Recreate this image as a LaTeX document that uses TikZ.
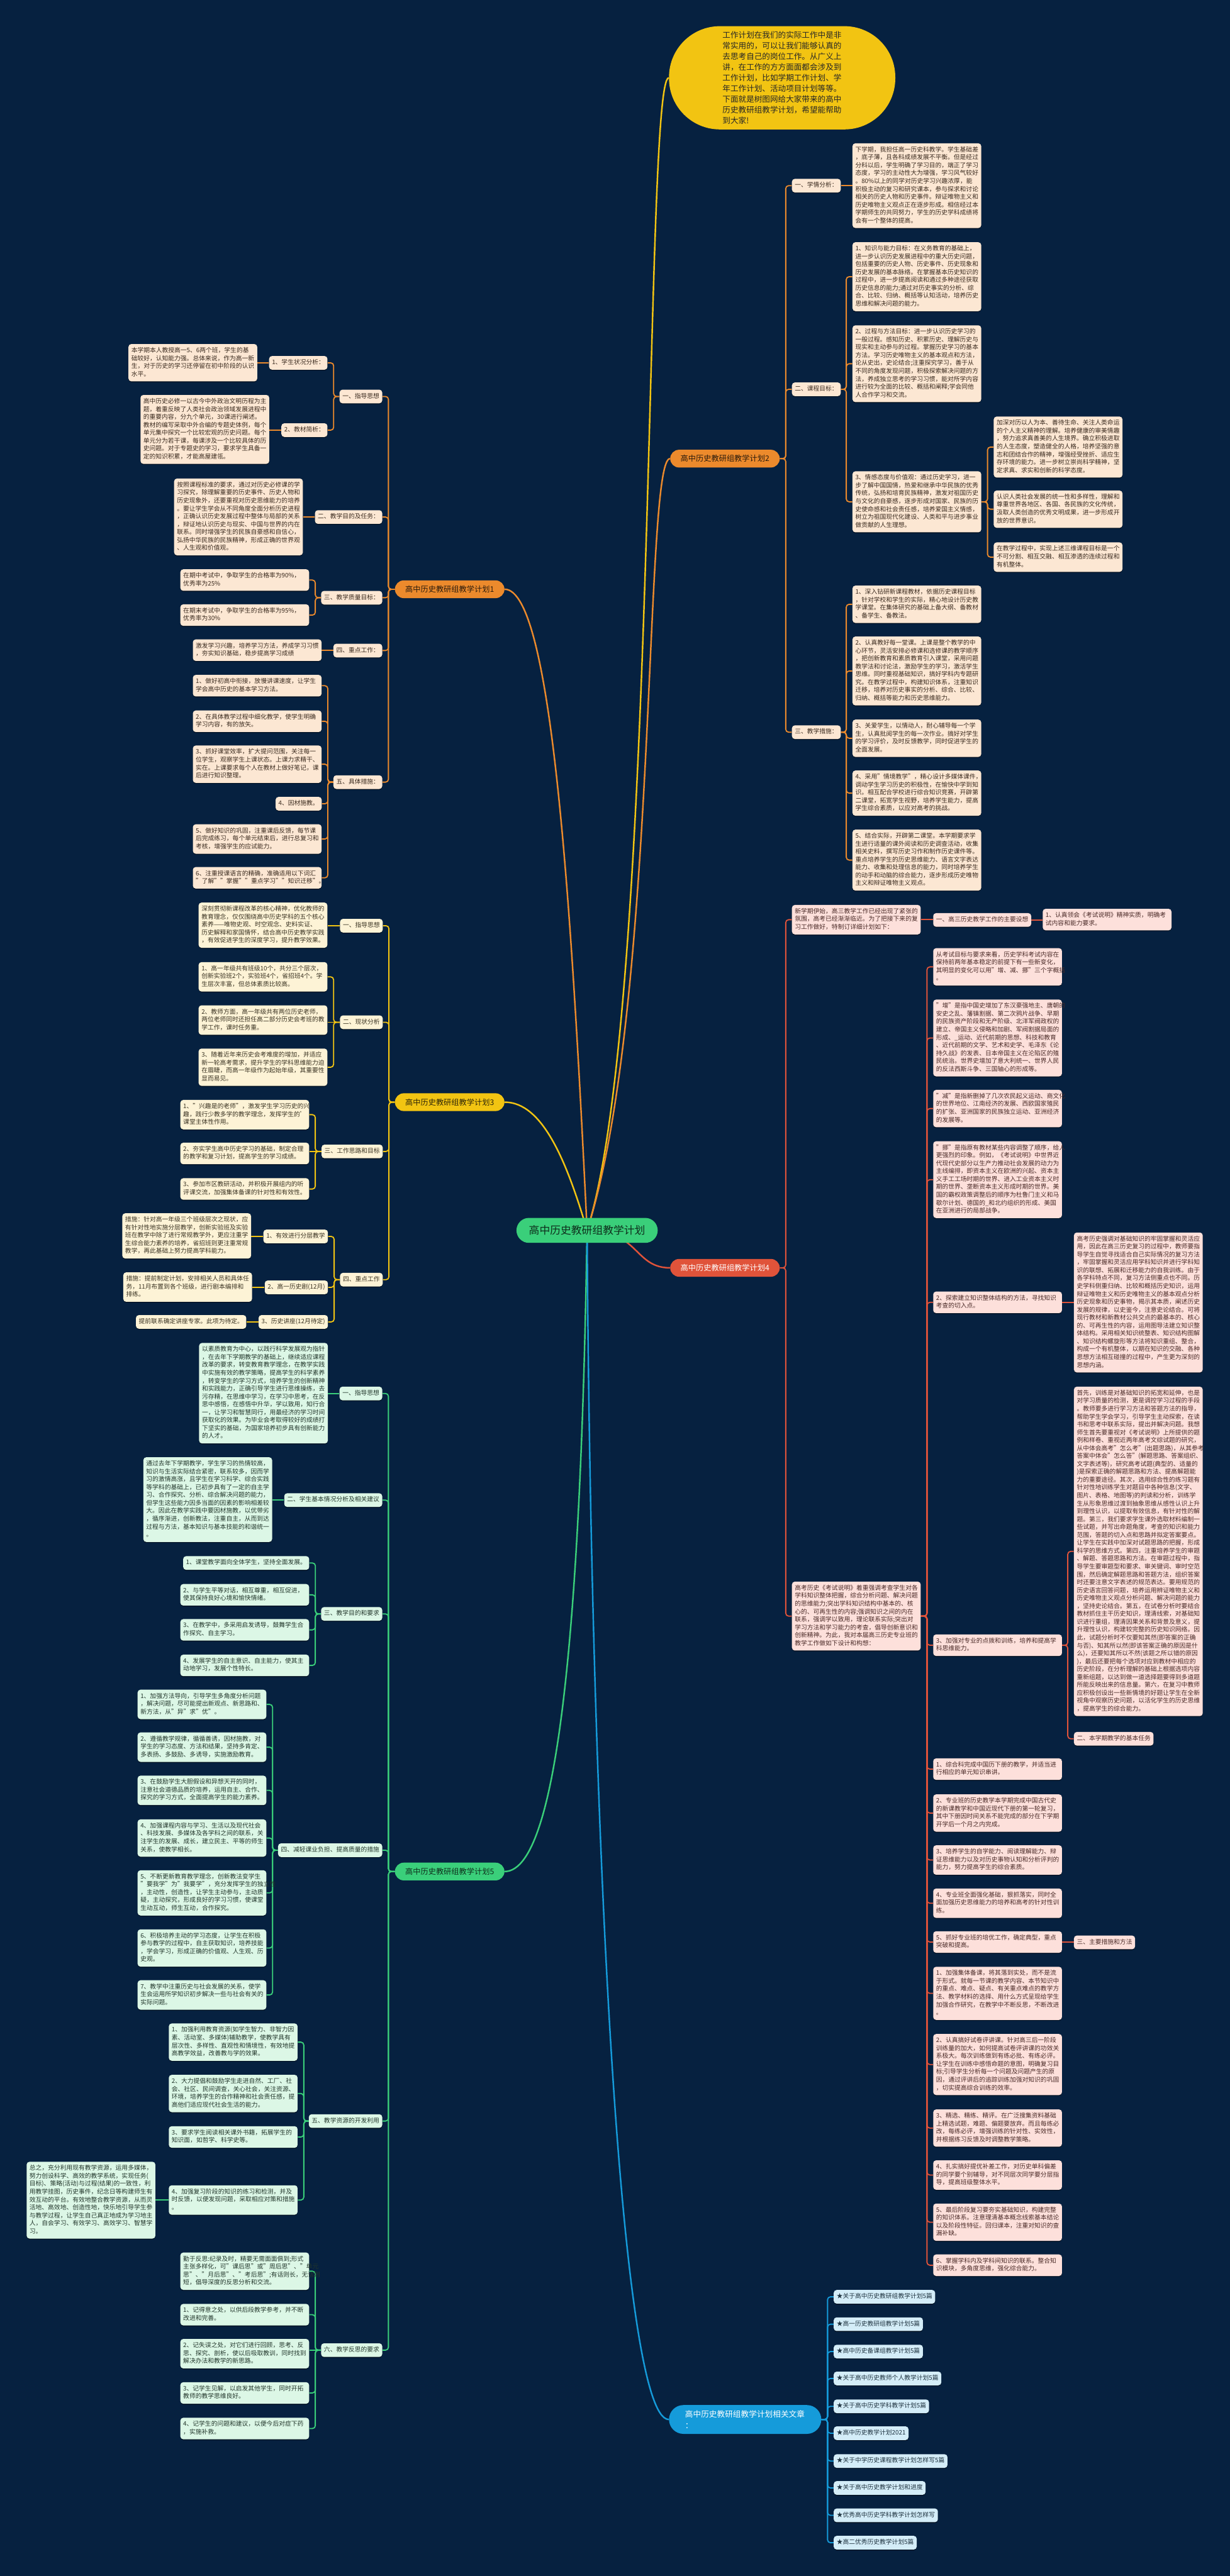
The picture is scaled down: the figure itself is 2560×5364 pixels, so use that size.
\documentclass[tikz,border=0pt]{standalone}
\usepackage{fontspec}
\setmainfont{Noto Sans CJK SC}
\usetikzlibrary{calc,shadows}
\pgfdeclarelayer{back}
\pgfdeclarelayer{bg}
\pgfsetlayers{back,bg,main}
\definecolor{bgc}{HTML}{062140}
\definecolor{f1}{HTML}{FCE7D3}
\definecolor{t1}{HTML}{3A2A1E}
\definecolor{f3}{HTML}{FDF3D6}
\definecolor{t3}{HTML}{3A3322}
\definecolor{f4}{HTML}{FDE0DB}
\definecolor{t4}{HTML}{4A2A27}
\definecolor{f5}{HTML}{DCF7E6}
\definecolor{t5}{HTML}{22362B}
\definecolor{f6}{HTML}{D4EDF8}
\definecolor{t6}{HTML}{1F3340}
\definecolor{colO}{HTML}{EC8A2C}
\definecolor{colY}{HTML}{F2C412}
\definecolor{colR}{HTML}{E0533A}
\definecolor{colG}{HTML}{3ACF7A}
\definecolor{colB}{HTML}{159BDA}
\definecolor{tO}{HTML}{2B1B0C}
\definecolor{tY}{HTML}{2E2608}
\definecolor{tG}{HTML}{0E2E1C}
\newcommand\mystrut{\rule[-2.4pt]{0pt}{8.22pt}}
\newcommand\cL[3]{\draw[con=#1] (#2.west) -| ($(#3.east)+(12.5,0)$) -- (#3.east);}
\newcommand\cR[3]{\draw[con=#1] (#2.east) -| ($(#3.west)+(-12.5,0)$) -- (#3.west);}
\newcommand\sL[3]{\draw[con=#1] (#2.west) -- (#2.west -| #3.east);}
\newcommand\sR[3]{\draw[con=#1] (#2.east) -- (#2.east -| #3.west);}
\tikzset{
  nb/.style={font=\fontsize{6.4pt}{8.22pt}\selectfont, inner xsep=3pt, inner ysep=3pt, rounded corners=3pt, align=left, execute at begin node=\mystrut, execute at end node=\mystrut, drop shadow={shadow xshift=0pt, shadow yshift=-0.9pt, opacity=0.45, fill=black}},
  tw/.style={text width=128pt},
  k1/.style={nb, fill=f1, text=t1},
  k3/.style={nb, fill=f3, text=t3},
  k4/.style={nb, fill=f4, text=t4},
  k5/.style={nb, fill=f5, text=t5},
  k6/.style={nb, fill=f6, text=t6},
  con/.style={draw=#1, line width=1.2pt, rounded corners=3pt},
  trunkline/.style={draw=#1, line width=1.6pt},
  lv1/.style={font=\fontsize{8pt}{10pt}\selectfont, minimum width=114pt, minimum height=18.5pt, rounded corners=9.25pt, inner sep=0pt},
}
\begin{document}
\begin{tikzpicture}[x=0.5pt,y=-0.5pt]
\useasboundingbox (0,0) rectangle (2560,5364);
\begin{pgfonlayer}{back}
\fill[bgc] (0,0) rectangle (2560,5364);
\end{pgfonlayer}

% ---------- intro + center ----------
\node[fill=colY, text=black!85, minimum width=235.5pt, minimum height=107.5pt, rounded corners=53pt, font=\fontsize{8.25pt}{11.1pt}\selectfont, align=left, text width=124pt, inner sep=0pt] (intro) at (1628,162) {工作计划在我们的实际工作中是非\\常实用的，可以让我们能够认真的\\去思考自己的岗位工作。从广义上\\讲，在工作的方方面面都会涉及到\\工作计划，比如学期工作计划、学\\年工作计划、活动项目计划等等。\\下面就是树图网给大家带来的高中\\历史教研组教学计划，希望能帮助\\到大家!};
\node[fill=colG, text=tG, font=\fontsize{11pt}{13pt}\selectfont, minimum width=147pt, minimum height=26pt, rounded corners=13pt, inner sep=0pt] (C) at (1222,2562) {高中历史教研组教学计划};

% ---------- level 1 ----------
\node[lv1, fill=colO, text=tO] (P1) at (936,1227) {高中历史教研组教学计划1};
\node[lv1, fill=colO, text=tO] (P2) at (1509,955) {高中历史教研组教学计划2};
\node[lv1, fill=colY, text=tY] (P3) at (936,2295) {高中历史教研组教学计划3};
\node[lv1, fill=colR, text=white] (P4) at (1509,2640) {高中历史教研组教学计划4};
\node[lv1, fill=colG, text=tG] (P5) at (936,3897) {高中历史教研组教学计划5};
\node[fill=colB, text=white, font=\fontsize{8.3pt}{11.5pt}\selectfont, align=left, text width=125pt, minimum height=30pt, rounded corners=15pt, inner xsep=16.75pt, inner ysep=2pt] (P6) at (1551,5038) {高中历史教研组教学计划相关文章\\：};

% ---------- plan 1 ----------
\node[k1, anchor=north east] (p1a) at (796,811) {一、指导思想};
\node[k1, anchor=north east] (p1a1) at (682,741) {1、学生状况分析：};
\node[k1, tw, anchor=north west] (p1a1x) at (267,716) {本学期本人教授高一5、6两个班，学生的基\\础较好，认知能力强。总体来说，作为高一新\\生，对于历史的学习还停留在初中阶段的认识\\水平。};
\node[k1, anchor=north east] (p1a2) at (682,881) {2、教材简析：};
\node[k1, tw, anchor=north west] (p1a2x) at (292,822) {高中历史必修一以古今中外政治文明历程为主\\题，着重反映了人类社会政治领域发展进程中\\的重要内容，分九个单元，30课进行阐述。\\教材的编写采取中外合编的专题史体例，每个\\单元集中探究一个比较宏观的历史问题。每个\\单元分为若干课，每课涉及一个比较具体的历\\史问题。对于专题史的学习，要求学生具备一\\定的知识积累，才能高屋建瓴。};
\node[k1, anchor=north east] (p1b) at (796,1062) {二、教学目的及任务：};
\node[k1, tw, anchor=north west] (p1bx) at (362,996) {按照课程标准的要求，通过对历史必修课的学\\习探究，除理解重要的历史事件、历史人物和\\历史现象外，还要重视对历史思维能力的培养\\。要让学生学会从不同角度全面分析历史进程\\，正确认识历史发展过程中整体与局部的关系\\，辩证地认识历史与现实、中国与世界的内在\\联系。同时增强学生的民族自豪感和自信心，\\弘扬中华民族的民族精神，形成正确的世界观\\、人生观和价值观。};
\node[k1, anchor=north east] (p1c) at (796,1230) {三、教学质量目标：};
\node[k1, tw, anchor=north west] (p1c1) at (375,1185) {在期中考试中，争取学生的合格率为90\%，\\优秀率为25\%};
\node[k1, tw, anchor=north west] (p1c2) at (375,1258) {在期末考试中，争取学生的合格率为95\%，\\优秀率为30\%};
\node[k1, anchor=north east] (p1d) at (796,1340) {四、重点工作：};
\node[k1, tw, anchor=north west] (p1dx) at (401,1331) {激发学习兴趣，培养学习方法，养成学习习惯\\，夯实知识基础，稳步提高学习成绩};
\node[k1, anchor=north east] (p1e) at (796,1614) {五、具体措施：};
\node[k1, tw, anchor=north west] (p1e1) at (401,1405) {1、做好初高中衔接，放慢讲课速度，让学生\\学会高中历史的基本学习方法。};
\node[k1, tw, anchor=north west] (p1e2) at (401,1479) {2、在具体教学过程中细化教学，使学生明确\\学习内容，有的放矢。};
\node[k1, tw, anchor=north west] (p1e3) at (401,1552) {3、抓好课堂效率，扩大提问范围，关注每一\\位学生，观察学生上课状态。上课力求精干、\\实在。上课要求每个人在教材上做好笔记，课\\后进行知识整理。};
\node[k1, anchor=north east] (p1e4) at (670,1659) {4、因材施教。};
\node[k1, tw, anchor=north west] (p1e5) at (401,1716) {5、做好知识的巩固，注重课后反馈，每节课\\后完成练习，每个单元结束后，进行总复习和\\考核，增强学生的应试能力。};
\node[k1, tw, anchor=north west] (p1e6) at (401,1805) {6、注重授课语言的精确，准确适用以下词汇\\"了解""掌握""重点学习""知识迁移"。};

% ---------- plan 2 ----------
\node[k1, anchor=north west] (p2a) at (1648,372) {一、学情分析：};
\node[k1, tw, anchor=north west] (p2ax) at (1774,298) {下学期，我担任高一历史科教学。学生基础差\\，底子薄，且各科成绩发展不平衡。但是经过\\分科以后，学生明确了学习目的，端正了学习\\态度，学习的主动性大为增强，学习风气较好\\。80\%以上的同学对历史学习兴趣浓厚，能\\积极主动的复习和研究课本，参与探求和讨论\\相关的历史人物和历史事件。辩证唯物主义和\\历史唯物主义观点正在逐步形成。相信经过本\\学期师生的共同努力，学生的历史学科成绩将\\会有一个整体的提高。};
\node[k1, anchor=north west] (p2b) at (1648,796) {二、课程目标：};
\node[k1, tw, anchor=north west] (p2b1) at (1774,504) {1、知识与能力目标：在义务教育的基础上，\\进一步认识历史发展进程中的重大历史问题，\\包括重要的历史人物、历史事件、历史现象和\\历史发展的基本脉络。在掌握基本历史知识的\\过程中，进一步提高阅读和通过多种途径获取\\历史信息的能力;通过对历史事实的分析、综\\合、比较、归纳、概括等认知活动，培养历史\\思维和解决问题的能力。};
\node[k1, tw, anchor=north west] (p2b2) at (1774,677) {2、过程与方法目标：进一步认识历史学习的\\一般过程。感知历史、积累历史、理解历史与\\现实和主动参与的过程。掌握历史学习的基本\\方法。学习历史唯物主义的基本观点和方法，\\论从史出，史论结合;注重探究学习，善于从\\不同的角度发现问题，积极探索解决问题的方\\法，养成独立思考的学习习惯，能对所学内容\\进行较为全面的比较、概括和阐释;学会同他\\人合作学习和交流。};
\node[k1, tw, anchor=north west] (p2b3) at (1774,981) {3、情感态度与价值观：通过历史学习，进一\\步了解中国国情，热爱和继承中华民族的优秀\\传统，弘扬和培育民族精神，激发对祖国历史\\与文化的自豪感，逐步形成对国家、民族的历\\史使命感和社会责任感，培养爱国主义情感，\\树立为祖国现代化建设、人类和平与进步事业\\做贡献的人生理想。};
\node[k1, tw, anchor=north west] (p2b3a) at (2068,867) {加深对历以人为本、善待生命、关注人类命运\\的个人主义精神的理解。培养健康的审美情趣\\，努力追求真善美的人生境界。确立积极进取\\的人生态度，塑造健全的人格，培养坚强的意\\志和团结合作的精神，增强经受挫折、适应生\\存环境的能力。进一步树立崇尚科学精神，坚\\定求真、求实和创新的科学态度。};
\node[k1, tw, anchor=north west] (p2b3b) at (2068,1021) {认识人类社会发展的统一性和多样性，理解和\\尊重世界各地区、各国、各民族的文化传统，\\汲取人类创造的优秀文明成果，进一步形成开\\放的世界意识。};
\node[k1, tw, anchor=north west] (p2b3c) at (2068,1129) {在教学过程中，实现上述三维课程目标是一个\\不可分割、相互交融、相互渗透的连续过程和\\有机整体。};
\node[k1, anchor=north west] (p2c) at (1648,1510) {三、教学措施：};
\node[k1, tw, anchor=north west] (p2c1) at (1774,1219) {1、深入钻研新课程教材，依据历史课程目标\\，针对学校和学生的实际，精心地设计历史教\\学课堂。在集体研究的基础上备大纲、备教材\\、备学生、备教法。};
\node[k1, tw, anchor=north west] (p2c2) at (1774,1325) {2、认真教好每一堂课。上课是整个教学的中\\心环节，灵活安排必修课和选修课的教学顺序\\，把创新教育和素质教育引入课堂，采用问题\\教学法和讨论法，激励学生的学习，激活学生\\思维。同时重视基础知识，搞好学科内专题研\\究。在教学过程中，构建知识体系，注重知识\\迁移，培养对历史事实的分析、综合、比较、\\归纳、概括等能力和历史思维能力。};
\node[k1, tw, anchor=north west] (p2c3) at (1774,1498) {3、关爱学生，以情动人，耐心辅导每一个学\\生，认真批阅学生的每一次作业。搞好对学生\\的学习评价，及时反馈教学，同时促进学生的\\全面发展。};
\node[k1, tw, anchor=north west] (p2c4) at (1774,1604) {4、采用"情境教学"，精心设计多媒体课件，\\调动学生学习历史的积极性，在愉快中学到知\\识。相互配合学校进行综合知识竞赛，开辟第\\二课堂，拓宽学生视野，培养学生能力，提高\\学生综合素质，以应对高考的挑战。};
\node[k1, tw, anchor=north west] (p2c5) at (1774,1727) {5、结合实际，开辟第二课堂。本学期要求学\\生进行适量的课外阅读和历史调查活动，收集\\相关史料，撰写历史习作和制作历史课件等。\\重点培养学生的历史思维能力、语言文字表达\\能力、收集和处理信息的能力，同时培养学生\\的动手和动脑的综合能力，逐步形成历史唯物\\主义和辩证唯物主义观点。};

% ---------- plan 3 ----------
\node[k3, anchor=north east] (p3a) at (797,1913) {一、指导思想};
\node[k3, tw, anchor=north west] (p3ax) at (413,1879) {深刻贯彻新课程改革的核心精神，优化教师的\\教育理念，仅仅围绕高中历史学科的五个核心\\素养——唯物史观、时空观念、史料实证、\\历史解释和家国情怀，结合高中历史教学实践\\，有效促进学生的深度学习，提升教学效果。};
\node[k3, anchor=north east] (p3b) at (797,2114) {二、现状分析};
\node[k3, tw, anchor=north west] (p3b1) at (413,2003) {1、高一年级共有班级10个，共分三个层次，\\创新实验班2个，实验班4个，省招班4个。学\\生层次丰富，但总体素质比较高。};
\node[k3, tw, anchor=north west] (p3b2) at (413,2093) {2、教师方面，高一年级共有两位历史老师，\\两位老师同时还担任高二部分历史会考班的教\\学工作，课时任务重。};
\node[k3, tw, anchor=north west] (p3b3) at (413,2183) {3、随着近年来历史会考难度的增加，并适应\\新一轮高考需求，提升学生的学科思维能力迫\\在眉睫，而高一年级作为起始年级，其重要性\\显而易见。};
\node[k3, anchor=north east] (p3c) at (797,2383) {三、工作思路和目标};
\node[k3, tw, anchor=north west] (p3c1) at (375,2290) {1、"兴趣是的老师"，激发学生学习历史的兴\\趣，践行少教多学的教学理念，发挥学生的'\\课堂主体性作用。};
\node[k3, tw, anchor=north west] (p3c2) at (375,2379) {2、夯实学生高中历史学习的基础，制定合理\\的教学和复习计划，提高学生的学习成绩。};
\node[k3, tw, anchor=north west] (p3c3) at (375,2453) {3、参加市区教研活动，并积极开展组内的听\\评课交流，加强集体备课的针对性和有效性。};
\node[k3, anchor=north east] (p3d) at (797,2650) {四、重点工作};
\node[k3, anchor=north east] (p3d1) at (683,2560) {1、有效进行分层教学};
\node[k3, tw, anchor=north east] (p3d1x) at (523,2526) {措施：针对高一年级三个班级层次之现状，应\\有针对性地实施分层教学，创新实验班及实验\\班在教学中除了进行常规教学外，更应注重学\\生综合能力素养的培养，省招班则更注重常规\\教学，再此基础上努力提高学科能力。};
\node[k3, anchor=north east] (p3d2) at (683,2666) {2、高一历史剧(12月)};
\node[k3, tw, anchor=north east] (p3d2x) at (525,2649) {措施：提前制定计划，安排相关人员和具体任\\务，11月布置到各个班级，进行剧本编排和\\排练。};
\node[k3, anchor=north east] (p3d3) at (683,2738) {3、历史讲座(12月待定)};
\node[k3, anchor=north east] (p3d3x) at (513,2738) {提前联系确定讲座专家。此项为待定。};

% ---------- plan 4 ----------
\node[k4, tw, anchor=north west] (p4a) at (1648,1884) {新学期伊始，高三教学工作已经出现了紧张的\\氛围，高考已经渐渐临近。为了把接下来的复\\习工作做好，特制订详细计划如下：};
\node[k4, anchor=north west] (p4a1) at (1942,1901) {一、高三历史教学工作的主要设想};
\node[k4, tw, anchor=north west] (p4a1a) at (2170,1892) {1、认真领会《考试说明》精神实质，明确考\\试内容和能力要求。};
\node[k4, tw, anchor=north west] (p4b) at (1648,3293) {高考历史《考试说明》着重强调考查学生对各\\学科知识整体把握，综合分析问题、解决问题\\的思维能力;突出学科知识结构中基本的、核\\心的、可再生性的内容;强调知识之间的内在\\联系，强调学以致用，理论联系实际;突出对\\学习方法和学习能力的考查，倡导创新意识和\\创新精神。为此，我对本届高三历史专业班的\\教学工作做如下设计和构想：};
\node[k4, tw, anchor=north west] (p4b1) at (1942,1974) {从考试目标与要求来看，历史学科考试内容在\\保持前两年基本稳定的前提下有一些新变化，\\其明显的变化可以用"增、减、挪"三个字概括\\。};
\node[k4, tw, anchor=north west] (p4b2) at (1942,2081) {"增"是指中国史增加了东汉豪强地主、唐朝的\\安史之乱、藩镇割据、第二次鸦片战争、早期\\的民族资产阶段和无产阶级、北洋军阀政权的\\建立、帝国主义侵略和加剧、军阀割据局面的\\形成、\_运动、近代前期的思想、科技和教育\\、近代前期的文学、艺术和史学、毛泽东《论\\持久战》的发表、日本帝国主义在沦陷区的殖\\民统治。世界史增加了意大利统一、世界人民\\的反法西斯斗争、三国轴心的形成等。};
\node[k4, tw, anchor=north west] (p4b3) at (1942,2269) {"减"是指新删掉了几次农民起义运动、商文化\\的世界地位、江南经济的发展、西欧国家殖民\\的扩张、亚洲国家的民族独立运动、亚洲经济\\的发展等。};
\node[k4, tw, anchor=north west] (p4b4) at (1942,2376) {"挪"是指原有教材某些内容调整了顺序，给人\\更强烈的印象。例如，《考试说明》中世界近\\代现代史部分以生产力推动社会发展的动力为\\主线编排，即资本主义在欧洲的兴起、资本主\\义手工工场时期的世界、进入工业资本主义时\\期的世界、垄断资本主义形成时期的世界。美\\国的霸权政策调整后的顺序为杜鲁门主义和马\\歇尔计划、德国的\_和北约组织的形成、美国\\在亚洲进行的局部战争。};
\node[k4, tw, anchor=north west] (p4b5) at (1942,2689) {2、探索建立知识整体结构的方法，寻找知识\\考查的切入点。};
\node[k4, tw, anchor=north west] (p4b5a) at (2235,2566) {高考历史强调对基础知识的牢固掌握和灵活应\\用，因此在高三历史复习的过程中，教师要指\\导学生自觉寻找适合自己实际情况的复习方法\\，牢固掌握和灵活应用学科知识并进行学科知\\识的联想、拓展和迁移能力的自我训练。由于\\各学科特点不同，复习方法侧重点也不同。历\\史学科侧重归纳、比较和概括历史知识，运用\\辩证唯物主义和历史唯物主义的基本观点分析\\历史现象和历史事物，揭示其本质，阐述历史\\发展的规律，以史鉴今，注意史论结合。可将\\现行教材和新教材公共交点的最基本的、核心\\的、可再生性的内容，运用图导法建立知识整\\体结构。采用相关知识统整表、知识结构图解\\、知识结构螺旋形等方法将知识重组、整合，\\构成一个有机整体，以期在知识的交融、各种\\思想方法相互碰撞的过程中，产生更为深刻的\\思想内涵。};
\node[k4, tw, anchor=north west] (p4b6) at (1942,3403) {3、加强对专业的点拨和训练，培养和提高学\\科思维能力。};
\node[k4, tw, anchor=north west] (p4b6a) at (2235,2887) {首先，训练是对基础知识的拓宽和延伸，也是\\对学习质量的检测，更是调控学习过程的手段\\。教师要多进行学习方法和答题方法的指导，\\帮助学生学会学习，引导学生主动探索，在读\\书和思考中联系实际，提出并解决问题。我想\\师生首先要重视对《考试说明》上所提供的题\\例和样卷、重视近两年高考文综试题的研究，\\从中体会高考"怎么考"(出题思路)，从其参考\\答案中体会"怎么答"(解题思路、答案组织、\\文字表述等)，研究高考试题(典型的、适量的\\)是探索正确的解题思路和方法、提高解题能\\力的重要途径。其次，选用综合性的练习题有\\针对性地训练学生对题目中各种信息(文字、\\图片、表格、地图等)的判读和分析，训练学\\生从形象思维过渡到抽象思维从感性认识上升\\到理性认识，以提取有效信息，有针对性的解\\题。第三，我们要求学生课外选取材料编制一\\些试题，并写出命题角度，考查的知识和能力\\范围，答题的切入点和思路并拟定答案要点。\\让学生在实践中加深对试题思路的把握，形成\\科学的思维方式。第四，注重培养学生的审题\\、解题、答题思路和方法。在审题过程中，指\\导学生要审题型和要求、审关键词、审时空范\\围，然后确定解题思路和答题方法，组织答案\\时还要注意文字表述的规范表达。要用规范的\\历史语言回答问题，培养运用辨证唯物主义和\\历史唯物主义观点分析问题、解决问题的能力\\，坚持史论结合。第五，在试卷分析时要结合\\教材抓住主干历史知识，理清线索，对基础知\\识进行重组，理清因果关系和背景及意义，提\\升理性认识，构建较完整的历史知识网络。因\\此，试题分析时不仅要知其然(即答案的正确\\与否)、知其所以然(即该答案正确的原因是什\\么)，还要知其所以不然(该题之所以错的原因\\)，最后还要把每个选项对应到教材中相应的\\历史阶段，在分析理解的基础上根据选项内容\\重新组题，以达到做一道选择题要得到多道题\\所能反映出来的信息量。第六，在复习中教师\\应积极创设出一些新情境的好题让学生在全新\\视角中观察历史问题，以活化学生的历史思维\\，提高学生的综合能力。};
\node[k4, anchor=north west] (p4b6b) at (2235,3606) {二、本学期教学的基本任务};
\node[k4, tw, anchor=north west] (p4b7) at (1942,3661) {1、综合科完成中国历下册的教学，并适当进\\行相应的单元知识串讲。};
\node[k4, tw, anchor=north west] (p4b8) at (1942,3736) {2、专业班的历史教学本学期完成中国古代史\\的新课教学和中国近现代下册的第一轮复习，\\其中下册因时间关系不能完成的部分在下学期\\开学后一个月之内完成。};
\node[k4, tw, anchor=north west] (p4b9) at (1942,3842) {3、培养学生的自学能力、阅读理解能力、辩\\证思维能力以及对历史事物认知和分析评判的\\能力，努力提高学生的综合素质。};
\node[k4, tw, anchor=north west] (p4b10) at (1942,3932) {4、专业班全面强化基础，狠抓落实，同时全\\面加强历史思维能力的培养和高考的针对性训\\练。};
\node[k4, tw, anchor=north west] (p4b11) at (1942,4021) {5、抓好专业班的培优工作，确定典型，重点\\突破和提高。};
\node[k4, anchor=north west] (p4b11a) at (2235,4030) {三、主要措施和方法};
\node[k4, tw, anchor=north west] (p4b12) at (1942,4095) {1、加强集体备课，将其落到实处，而不是流\\于形式。就每一节课的教学内容、本节知识中\\的重点、难点、疑点、有关重点难点的教学方\\法、教学材料的选择、用什么方式呈现给学生\\加强合作研究，在教学中不断反思，不断改进\\。};
\node[k4, tw, anchor=north west] (p4b13) at (1942,4235) {2、认真搞好试卷评讲课。针对高三后一阶段\\训练量的加大，如何提高试卷评讲课的功效关\\系极大。每次训练做到有练必批、有练必评。\\让学生在训练中感悟命题的意图，明确复习目\\标;引导学生分析每一个问题及问题产生的原\\因，通过评讲后的追踪训练加强对知识的巩固\\，切实提高综合训练的效率。};
\node[k4, tw, anchor=north west] (p4b14) at (1942,4392) {3、精选、精练、精评。在广泛搜集资料基础\\上精选试题，难题、偏题要放弃。而且每练必\\改，每练必评，增强训练的针对性、实效性，\\并根据练习反馈及时调整教学策略。};
\node[k4, tw, anchor=north west] (p4b15) at (1942,4498) {4、扎实搞好提优补差工作，对历史单科偏差\\的同学要个别辅导，对不同层次同学要分层指\\导，提高班级整体水平。};
\node[k4, tw, anchor=north west] (p4b16) at (1942,4588) {5、最后阶段复习要夯实基础知识，构建完整\\的知识体系。注意理清基本概念线索基本结论\\以及阶段性特征。回归课本，注重对知识的查\\漏补缺。};
\node[k4, tw, anchor=north west] (p4b17) at (1942,4694) {6、掌握学科内及学科间知识的联系。整合知\\识模块，多角度思维，强化综合能力。};

% ---------- plan 5 ----------
\node[k5, anchor=north east] (p5a) at (796,2887) {一、指导思想};
\node[k5, tw, anchor=north west] (p5ax) at (414,2796) {以素质教育为中心，以践行科学发展观为指针\\，在去年下学期教学的基础上，继续适应课程\\改革的要求，转变教育教学理念，在教学实践\\中实施有效的教学策略，提高学生的科学素养\\，转变学生的学习方式，培养学生的创新精神\\和实践能力，正确引导学生进行思维操练，去\\污存精，在思维中学习，在学习中思考，在反\\思中感悟，在感悟中升华，学以致用，知行合\\一，让学习和智慧同行，用最经济的学习时间\\获取化的效果。为毕业会考取得较好的成绩打\\下坚实的基础，为国家培养初步具有创新能力\\的人才。};
\node[k5, anchor=north east] (p5b) at (796,3109) {二、学生基本情况分析及相关建议};
\node[k5, tw, anchor=north west] (p5bx) at (298,3034) {通过去年下学期教学，学生学习的热情较高，\\知识与生活实际结合紧密，联系较多，因而学\\习的激情高涨，且学生在学习科学、综合实践\\等学科的基础上，已初步具有了一定的自主学\\习、合作探究、分析、综合解决问题的能力，\\但学生这些能力因多当面的因素的影响相差较\\大。因此在教学实践中要因材施教，以优带劣\\，循序渐进，创新教法，注重自主，从而到达\\过程与方法，基本知识与基本技能的和谐统一\\。};
\node[k5, anchor=north east] (p5c) at (796,3346) {三、教学目的和要求};
\node[k5, anchor=north east] (p5c1) at (644,3240) {1、课堂教学面向全体学生，坚持全面发展。};
\node[k5, tw, anchor=north west] (p5c2) at (375,3298) {2、与学生平等对话，相互尊重，相互促进，\\使其保持良好心境和愉快情绪。};
\node[k5, tw, anchor=north west] (p5c3) at (375,3371) {3、在教学中，多采用启发诱导，鼓舞学生合\\作探究、自主学习。};
\node[k5, tw, anchor=north west] (p5c4) at (375,3445) {4、发展学生的自主意识、自主能力，使其主\\动地学习，发展个性特长。};
\node[k5, anchor=north east] (p5d) at (796,3838) {四、减轻课业负担、提高质量的措施};
\node[k5, tw, anchor=north west] (p5d1) at (286,3518) {1、加强方法导向，引导学生多角度分析问题\\，解决问题，尽可能提出新观点、新思路和、\\新方法，从"异"求"优"。};
\node[k5, tw, anchor=north west] (p5d2) at (286,3607) {2、遵循教学规律，循循善诱，因材施教，对\\学生的学习态度、方法和结果，坚持多肯定、\\多表扬、多鼓励、多诱导，实施激励教育。};
\node[k5, tw, anchor=north west] (p5d3) at (286,3697) {3、在鼓励学生大胆假设和异想天开的同时，\\注意社会道德品质的培养，运用自主、合作、\\探究的学习方式，全面提高学生的能力素养。};
\node[k5, tw, anchor=north west] (p5d4) at (286,3788) {4、加强课程内容与学习、生活以及现代社会\\、科技发展、多媒体及各学科之间的联系，关\\注学生的发展、成长，建立民主、平等的师生\\关系，使教学相长。};
\node[k5, tw, anchor=north west] (p5d5) at (286,3894) {5、不断更新教育教学理念，创新教法变学生\\"要我学"为"我要学"，充分发挥学生的独立性\\，主动性，创造性，让学生主动参与，主动质\\疑，主动探究，形成良好的学习习惯，使课堂\\生动互动，师生互动，合作探究。};
\node[k5, tw, anchor=north west] (p5d6) at (286,4017) {6、积极培养主动的学习态度，让学生在积极\\参与教学的过程中，自主获取知识，培养技能\\，学会学习，形成正确的价值观、人生观、历\\史观。};
\node[k5, tw, anchor=north west] (p5d7) at (286,4123) {7、教学中注重历史与社会发展的关系，使学\\生会运用所学知识初步解决一些与社会有关的\\实际问题。};
\node[k5, anchor=north east] (p5e) at (796,4402) {五、教学资源的开发利用};
\node[k5, tw, anchor=north west] (p5e1) at (351,4213) {1、加强利用教育资源(如学生智力、非智力因\\素、活动室、多媒体)辅助教学，使教学具有\\层次性、多样性、直观性和情境性，有效地提\\高教学效益，改善教与学的效果。};
\node[k5, tw, anchor=north west] (p5e2) at (351,4320) {2、大力提倡和鼓励学生走进自然、工厂、社\\会、社区、民间调查，关心社会，关注资源、\\环境，培养学生的合作精神和社会责任感，提\\高他们适应现代社会生活的能力。};
\node[k5, tw, anchor=north west] (p5e3) at (351,4427) {3、要求学生阅读相关课外书籍，拓展学生的\\知识面，如哲学、科学史等。};
\node[k5, tw, anchor=north west] (p5e4) at (351,4550) {4、加强复习阶段的知识的练习和检测，并及\\时反馈，以便发现问题，采取相应对策和措施\\。};
\node[k5, tw, anchor=north west] (p5e4a) at (55,4501) {总之，充分利用现有教学资源，运用多媒体，\\努力创设科学、高效的教学系统，实现任务(\\目标)、策略(活动)与过程(结果)的一致性，利\\用教学挂图，历史事件，纪念日等构建师生有\\效互动的平台。有效地整合教学资源，从而灵\\活地、高效地、创造性地，快乐地引导学生参\\与教学过程，让学生自己真正地成为学习地主\\人，自会学习、有效学习、高效学习、智慧学\\习。};
\node[k5, anchor=north east] (p5f) at (796,4879) {六、教学反思的要求};
\node[k5, tw, anchor=north west] (p5f1) at (375,4690) {勤于反思:纪录及时，精要无需面面俱到;形式\\主张多样化，可"课后思"或"周后思"、"单元\\思"、"月后思"、"考后思";有话则长，无话则\\短，倡导深度的反思分析和交流。};
\node[k5, tw, anchor=north west] (p5f2) at (375,4797) {1、记得意之处，以供后段教学参考，并不断\\改进和完善。};
\node[k5, tw, anchor=north west] (p5f3) at (375,4870) {2、记失误之处，对它们进行回顾，思考、反\\思、探究、剖析，使以后吸取教训，同时找到\\解决办法和教学的新思路。};
\node[k5, tw, anchor=north west] (p5f4) at (375,4960) {3、记学生见解，以启发其他学生，同时开拓\\教师的教学思维良好。};
\node[k5, tw, anchor=north west] (p5f5) at (375,5034) {4、记学生的问题和建议，以便今后对症下药\\，实施补救。};

% ---------- related ----------
\node[k6, anchor=north west] (r1) at (1735,4768) {★关于高中历史教研组教学计划5篇};
\node[k6, anchor=north west] (r2) at (1735,4825) {★高一历史教研组教学计划5篇};
\node[k6, anchor=north west] (r3) at (1735,4882) {★高中历史备课组教学计划5篇};
\node[k6, anchor=north west] (r4) at (1735,4938) {★关于高中历史教师个人教学计划5篇};
\node[k6, anchor=north west] (r5) at (1735,4996) {★关于高中历史学科教学计划5篇};
\node[k6, anchor=north west] (r6) at (1735,5052) {★高中历史教学计划2021};
\node[k6, anchor=north west] (r7) at (1735,5110) {★关于中学历史课程教学计划怎样写5篇};
\node[k6, anchor=north west] (r8) at (1735,5166) {★关于高中历史教学计划和进度};
\node[k6, anchor=north west] (r9) at (1735,5223) {★优秀高中历史学科教学计划怎样写};
\node[k6, anchor=north west] (r10) at (1735,5280) {★高二优秀历史教学计划5篇};

% ---------- connectors ----------
\begin{pgfonlayer}{bg}
\draw[trunkline=colY] (C.center) .. controls (1370,2100) and (1340,162) .. (intro.west);
\draw[trunkline=colO] (C.center) .. controls (1370,2100) and (1340,955) .. (P2.west);
\draw[trunkline=colO] (C.center) .. controls (1190,1900) and (1150,1227) .. (P1.east);
\draw[trunkline=colY] (C.center) .. controls (1180,2420) and (1130,2295) .. (P3.east);
\draw[trunkline=colR] (C.center) .. controls (1330,2562) and (1320,2640) .. (P4.west);
\draw[trunkline=colG] (C.center) .. controls (1210,3300) and (1170,3897) .. (P5.east);
\draw[trunkline=colB] (C.center) .. controls (1230,3800) and (1290,5038) .. (P6.west);

\cL{colO}{P1}{p1a}\cL{colO}{P1}{p1b}\cL{colO}{P1}{p1c}\cL{colO}{P1}{p1d}\cL{colO}{P1}{p1e}
\cL{colO}{p1a}{p1a1}\cL{colO}{p1a}{p1a2}
\sL{colO}{p1a1}{p1a1x}\sL{colO}{p1a2}{p1a2x}\sL{colO}{p1b}{p1bx}
\cL{colO}{p1c}{p1c1}\cL{colO}{p1c}{p1c2}
\sL{colO}{p1d}{p1dx}
\cL{colO}{p1e}{p1e1}\cL{colO}{p1e}{p1e2}\cL{colO}{p1e}{p1e3}\cL{colO}{p1e}{p1e4}\cL{colO}{p1e}{p1e5}\cL{colO}{p1e}{p1e6}

\cR{colO}{P2}{p2a}\cR{colO}{P2}{p2b}\cR{colO}{P2}{p2c}
\sR{colO}{p2a}{p2ax}
\cR{colO}{p2b}{p2b1}\cR{colO}{p2b}{p2b2}\cR{colO}{p2b}{p2b3}
\cR{colO}{p2b3}{p2b3a}\cR{colO}{p2b3}{p2b3b}\cR{colO}{p2b3}{p2b3c}
\cR{colO}{p2c}{p2c1}\cR{colO}{p2c}{p2c2}\cR{colO}{p2c}{p2c3}\cR{colO}{p2c}{p2c4}\cR{colO}{p2c}{p2c5}

\cL{colY}{P3}{p3a}\cL{colY}{P3}{p3b}\cL{colY}{P3}{p3c}\cL{colY}{P3}{p3d}
\sL{colY}{p3a}{p3ax}
\cL{colY}{p3b}{p3b1}\sL{colY}{p3b}{p3b2}\cL{colY}{p3b}{p3b3}
\cL{colY}{p3c}{p3c1}\sL{colY}{p3c}{p3c2}\cL{colY}{p3c}{p3c3}
\cL{colY}{p3d}{p3d1}\cL{colY}{p3d}{p3d2}\cL{colY}{p3d}{p3d3}
\sL{colY}{p3d1}{p3d1x}\sL{colY}{p3d2}{p3d2x}\sL{colY}{p3d3}{p3d3x}

\cR{colR}{P4}{p4a}\cR{colR}{P4}{p4b}
\sR{colR}{p4a}{p4a1}\sR{colR}{p4a1}{p4a1a}
\cR{colR}{p4b}{p4b1}\cR{colR}{p4b}{p4b2}\cR{colR}{p4b}{p4b3}\cR{colR}{p4b}{p4b4}\cR{colR}{p4b}{p4b5}\cR{colR}{p4b}{p4b6}
\cR{colR}{p4b}{p4b7}\cR{colR}{p4b}{p4b8}\cR{colR}{p4b}{p4b9}\cR{colR}{p4b}{p4b10}\cR{colR}{p4b}{p4b11}\cR{colR}{p4b}{p4b12}
\cR{colR}{p4b}{p4b13}\cR{colR}{p4b}{p4b14}\cR{colR}{p4b}{p4b15}\cR{colR}{p4b}{p4b16}\cR{colR}{p4b}{p4b17}
\sR{colR}{p4b5}{p4b5a}
\cR{colR}{p4b6}{p4b6a}\cR{colR}{p4b6}{p4b6b}
\sR{colR}{p4b11}{p4b11a}

\cL{colG}{P5}{p5a}\cL{colG}{P5}{p5b}\cL{colG}{P5}{p5c}\cL{colG}{P5}{p5d}\cL{colG}{P5}{p5e}\cL{colG}{P5}{p5f}
\sL{colG}{p5a}{p5ax}\sL{colG}{p5b}{p5bx}
\cL{colG}{p5c}{p5c1}\cL{colG}{p5c}{p5c2}\cL{colG}{p5c}{p5c3}\cL{colG}{p5c}{p5c4}
\cL{colG}{p5d}{p5d1}\cL{colG}{p5d}{p5d2}\cL{colG}{p5d}{p5d3}\cL{colG}{p5d}{p5d4}\cL{colG}{p5d}{p5d5}\cL{colG}{p5d}{p5d6}\cL{colG}{p5d}{p5d7}
\cL{colG}{p5e}{p5e1}\cL{colG}{p5e}{p5e2}\cL{colG}{p5e}{p5e3}\cL{colG}{p5e}{p5e4}
\sL{colG}{p5e4}{p5e4a}
\cL{colG}{p5f}{p5f1}\cL{colG}{p5f}{p5f2}\sL{colG}{p5f}{p5f3}\cL{colG}{p5f}{p5f4}\cL{colG}{p5f}{p5f5}

\cR{colB}{P6}{r1}\cR{colB}{P6}{r2}\cR{colB}{P6}{r3}\cR{colB}{P6}{r4}\cR{colB}{P6}{r5}
\cR{colB}{P6}{r6}\cR{colB}{P6}{r7}\cR{colB}{P6}{r8}\cR{colB}{P6}{r9}\cR{colB}{P6}{r10}
\end{pgfonlayer}
\end{tikzpicture}
\end{document}
